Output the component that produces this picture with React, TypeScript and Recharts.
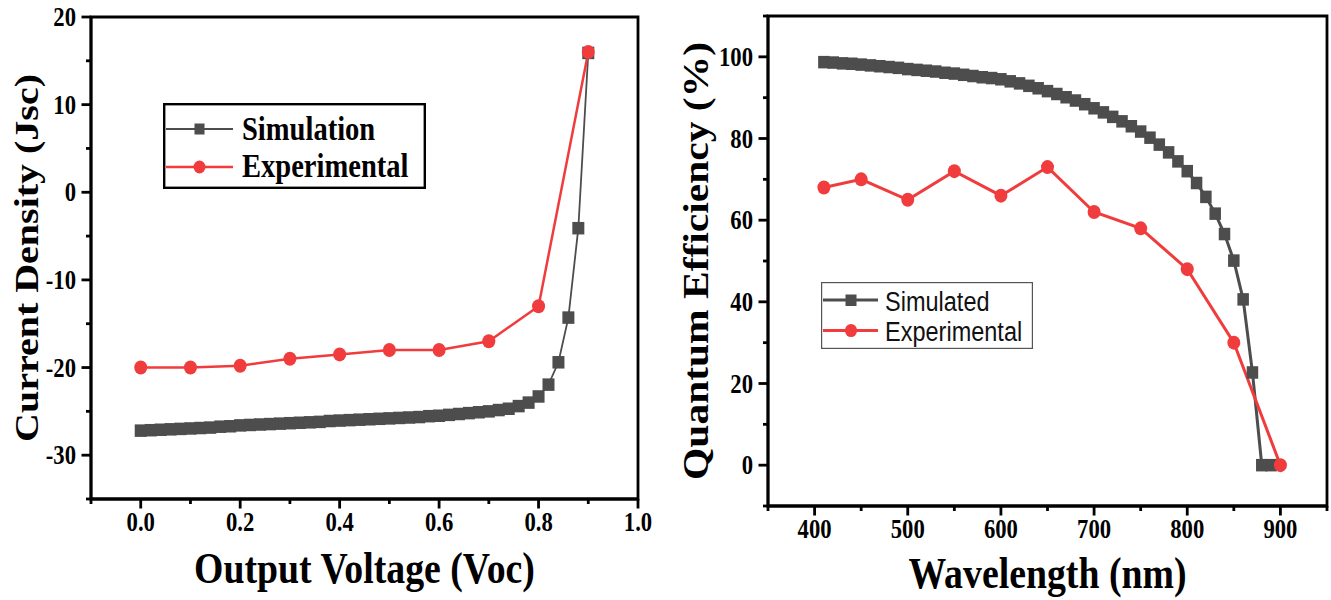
import React from "react";
import { LineChart, Line, XAxis, YAxis, ReferenceArea, Legend } from "recharts";

// Left panel: J-V curve
const leftSimV = [
  0, 0.02, 0.04, 0.06, 0.08, 0.1, 0.12, 0.14, 0.16, 0.18, 0.2, 0.22, 0.24, 0.26, 0.28, 0.3,
  0.32, 0.34, 0.36, 0.38, 0.4, 0.42, 0.44, 0.46, 0.48, 0.5, 0.52, 0.54, 0.56, 0.58, 0.6,
  0.62, 0.64, 0.66, 0.68, 0.7, 0.72, 0.74, 0.76, 0.78, 0.8, 0.82, 0.84, 0.86, 0.88, 0.9,
];
const leftSimJ = [
  -27.2, -27.15, -27.1, -27.05, -27.0, -26.95, -26.9, -26.85, -26.75, -26.7, -26.6, -26.55,
  -26.5, -26.45, -26.4, -26.35, -26.3, -26.25, -26.2, -26.1, -26.05, -26.0, -25.95, -25.9,
  -25.85, -25.8, -25.75, -25.7, -25.65, -25.55, -25.5, -25.4, -25.3, -25.2, -25.1, -25.0,
  -24.85, -24.7, -24.4, -24.0, -23.3, -21.95, -19.4, -14.3, -4.1, 15.9,
];
const leftExpV = [0, 0.1, 0.2, 0.3, 0.4, 0.5, 0.6, 0.7, 0.8, 0.9];
const leftExpJ = [-20, -20, -19.8, -19, -18.5, -18.0, -18.0, -17.0, -13.0, 16];

const leftXTicks = [-0.1, 0, 0.1, 0.2, 0.3, 0.4, 0.5, 0.6, 0.7, 0.8, 0.9, 1.0];
const leftXMajor = [0, 0.2, 0.4, 0.6, 0.8, 1.0];
const leftYTicks = [-35, -30, -25, -20, -15, -10, -5, 0, 5, 10, 15, 20];
const leftYMajor = [-30, -20, -10, 0, 10, 20];

// Right panel: quantum efficiency
const rightSimW = [
  410, 420, 430, 440, 450, 460, 470, 480, 490, 500, 510, 520, 530, 540, 550, 560, 570, 580,
  590, 600, 610, 620, 630, 640, 650, 660, 670, 680, 690, 700, 710, 720, 730, 740, 750, 760,
  770, 780, 790, 800, 810, 820, 830, 840, 850, 860, 870, 880, 890,
];
const rightSimQE = [
  98.7, 98.6, 98.4, 98.3, 98.1, 97.9, 97.7, 97.5, 97.3, 97.0, 96.8, 96.6, 96.4, 96.1, 95.9,
  95.6, 95.3, 95.0, 94.8, 94.5, 94.0, 93.5, 92.9, 92.3, 91.6, 90.9, 90.1, 89.3, 88.4, 87.4,
  86.4, 85.3, 84.2, 83.0, 81.7, 80.2, 78.5, 76.6, 74.4, 72.0, 69.1, 65.7, 61.6, 56.6, 50.1,
  40.6, 22.7, 0, 0,
];
const rightExpW = [410, 450, 500, 550, 600, 650, 700, 750, 800, 850, 900];
const rightExpQE = [68, 70, 65, 72, 66, 73, 62, 58, 48, 30, 0];

const rightXTicks = [350, 400, 450, 500, 550, 600, 650, 700, 750, 800, 850, 900, 950];
const rightXMajor = [400, 500, 600, 700, 800, 900];
const rightYTicks = [-10, 0, 10, 20, 30, 40, 50, 60, 70, 80, 90, 100, 110];
const rightYMajor = [0, 20, 40, 60, 80, 100];

const leftSim = leftSimV.map((v, i) => ({ v, j: leftSimJ[i] }));
const leftExp = leftExpV.map((v, i) => ({ v, j: leftExpJ[i] }));
const rightSim = rightSimW.map((w, i) => ({ w, qe: rightSimQE[i] }));
const rightExp = rightExpW.map((w, i) => ({ w, qe: rightExpQE[i] }));

const SIM = "#4d4d4d";
const EXP = "#f03c3c";
const SERIF = '"Liberation Serif", "Times New Roman", serif';
const SANS = '"Liberation Sans", Arial, sans-serif';
const SQ = 0.84; // the original figure is squeezed horizontally
const AXIS_W = 2.8;
const TICK_FONT = 27;

const isMajor = (majors: number[], v: number) => majors.some((m) => Math.abs(m - v) < 1e-6);

// tick marks drawn by hand so minor ticks can be shorter and unlabelled
const leftTick = (majors: number[]) => (props: any) => {
  const { x, y, payload } = props;
  const major = isMajor(majors, payload.value);
  return (
    <g>
      <line x1={x} x2={x - (major ? 9.5 : 5)} y1={y} y2={y} stroke="#000" strokeWidth={AXIS_W} />
      {major && (
        <text
          transform={`translate(${x - 15},${y}) scale(${SQ},1)`}
          dy="0.34em"
          textAnchor="end"
          style={{ fontFamily: SERIF, fontWeight: 700, fontSize: TICK_FONT }}
          fill="#000"
        >
          {String(payload.value)}
        </text>
      )}
    </g>
  );
};

const bottomTick = (majors: number[], fmt: (v: number) => string) => (props: any) => {
  const { x, y, payload } = props;
  const major = isMajor(majors, payload.value);
  return (
    <g>
      <line x1={x} x2={x} y1={y} y2={y + (major ? 9.5 : 5)} stroke="#000" strokeWidth={AXIS_W} />
      {major && (
        <text
          transform={`translate(${x},${y + 32}) scale(${SQ},1)`}
          textAnchor="middle"
          style={{ fontFamily: SERIF, fontWeight: 700, fontSize: TICK_FONT }}
          fill="#000"
        >
          {fmt(payload.value)}
        </text>
      )}
    </g>
  );
};

const xTitle = (text: string, dy: number) => ({
  content: (props: any) => {
    const vb = props.viewBox || {};
    return (
      <text
        transform={`translate(${vb.x + vb.width / 2},${vb.y + dy}) scale(${SQ},1)`}
        textAnchor="middle"
        style={{ fontFamily: SERIF, fontWeight: 700, fontSize: 45 }}
        fill="#000"
      >
        {text}
      </text>
    );
  },
});

const yTitle = (text: string, bx: number, size: number) => ({
  content: (props: any) => {
    const vb = props.viewBox || {};
    return (
      <text
        transform={`translate(${bx},${vb.y + vb.height / 2}) scale(${SQ},1) rotate(-90)`}
        textAnchor="middle"
        style={{ fontFamily: SERIF, fontWeight: 700, fontSize: size }}
        fill="#000"
      >
        {text}
      </text>
    );
  },
});

const squareDot = (w: number, h: number) => (p: any) =>
  p.cx == null ? (
    <g key={`s${p.index}`} />
  ) : (
    <rect key={`s${p.index}`} x={p.cx - w / 2} y={p.cy - h / 2} width={w} height={h} fill={SIM} />
  );

const roundDot = (rx: number, ry: number) => (p: any) =>
  p.cx == null ? (
    <g key={`c${p.index}`} />
  ) : (
    <ellipse key={`c${p.index}`} cx={p.cx} cy={p.cy} rx={rx} ry={ry} fill={EXP} />
  );

function JvLegend() {
  return (
    <svg width={263} height={86} style={{ display: "block" }}>
      <rect x={1.2} y={1.2} width={260.6} height={83.6} fill="#fff" stroke="#000" strokeWidth={2.4} />
      <line x1={3} x2={70} y1={26} y2={26} stroke={SIM} strokeWidth={1.8} />
      <rect x={31.5} y={20.5} width={10} height={11} fill={SIM} />
      <text transform={`translate(79,36.5) scale(${SQ},1)`} style={{ fontFamily: SERIF, fontWeight: 700, fontSize: 34 }} fill="#000">
        Simulation
      </text>
      <line x1={3} x2={70} y1={64} y2={64} stroke={EXP} strokeWidth={2.4} />
      <ellipse cx={36.5} cy={64} rx={6} ry={6.5} fill={EXP} />
      <text transform={`translate(79,74) scale(${SQ},1)`} style={{ fontFamily: SERIF, fontWeight: 700, fontSize: 34 }} fill="#000">
        Experimental
      </text>
    </svg>
  );
}

function QeLegend() {
  return (
    <svg width={212} height={67} style={{ display: "block" }}>
      <rect x={0.6} y={0.6} width={210.8} height={65.8} fill="#fff" stroke="#555" strokeWidth={1.2} />
      <line x1={2} x2={57} y1={18} y2={18} stroke={SIM} strokeWidth={3} />
      <rect x={24.5} y={12.5} width={11} height={11.5} fill={SIM} />
      <text transform={`translate(64,28.5) scale(${SQ},1)`} style={{ fontFamily: SANS, fontSize: 28 }} fill="#111">
        Simulated
      </text>
      <line x1={2} x2={57} y1={48.5} y2={48.5} stroke={EXP} strokeWidth={3} />
      <ellipse cx={30} cy={48.5} rx={6} ry={6.6} fill={EXP} />
      <text transform={`translate(64,59) scale(${SQ},1)`} style={{ fontFamily: SANS, fontSize: 28 }} fill="#111">
        Experimental
      </text>
    </svg>
  );
}

export default function App() {
  return (
    <div
      style={{
        position: "absolute",
        left: 0,
        top: 0,
        width: 1331,
        height: 600,
        background: "#fff",
        display: "flex",
      }}
    >
      <LineChart width={665} height={600} margin={{ top: 17, right: 27, bottom: 0, left: 0 }}>
        <XAxis
          dataKey="v"
          type="number"
          domain={[-0.1, 1]}
          ticks={leftXTicks}
          interval={0}
          allowDataOverflow
          height={101}
          tickSize={0}
          tickMargin={0}
          tickLine={false}
          axisLine={{ stroke: "#000", strokeWidth: AXIS_W }}
          tick={bottomTick(leftXMajor, (v) => v.toFixed(1))}
          label={xTitle("Output Voltage (Voc)", 84)}
        />
        <YAxis
          type="number"
          domain={[-35, 20]}
          ticks={leftYTicks}
          interval={0}
          allowDataOverflow
          width={91}
          tickSize={0}
          tickMargin={0}
          tickLine={false}
          axisLine={{ stroke: "#000", strokeWidth: AXIS_W }}
          tick={leftTick(leftYMajor)}
          label={yTitle("Current Density (Jsc)", 38, 40)}
        />
        <ReferenceArea x1={-0.1} x2={1} y1={-35} y2={20} fill="none" fillOpacity={0} stroke="#000" strokeWidth={AXIS_W} />
        <Line data={leftSim} dataKey="j" stroke={SIM} strokeWidth={1.8} dot={squareDot(12, 12.5)} isAnimationActive={false} />
        <Line data={leftExp} dataKey="j" stroke={EXP} strokeWidth={2.5} dot={roundDot(6.5, 7)} isAnimationActive={false} />
        <Legend
          layout="horizontal"
          verticalAlign="middle"
          align="center"
          wrapperStyle={{ left: 163, top: 103, width: 263, height: 86 }}
          content={() => <JvLegend />}
        />
      </LineChart>

      <LineChart width={666} height={600} margin={{ top: 16, right: 4, bottom: 0, left: 0 }}>
        <XAxis
          dataKey="w"
          type="number"
          domain={[350, 950]}
          ticks={rightXTicks}
          interval={0}
          allowDataOverflow
          height={94}
          tickSize={0}
          tickMargin={0}
          tickLine={false}
          axisLine={{ stroke: "#000", strokeWidth: AXIS_W }}
          tick={bottomTick(rightXMajor, (v) => String(v))}
          label={xTitle("Wavelength (nm)", 82)}
        />
        <YAxis
          type="number"
          domain={[-10, 110]}
          ticks={rightYTicks}
          interval={0}
          allowDataOverflow
          width={103}
          tickSize={0}
          tickMargin={0}
          tickLine={false}
          axisLine={{ stroke: "#000", strokeWidth: AXIS_W }}
          tick={leftTick(rightYMajor)}
          label={yTitle("Quantum Efficiency (%)", 43, 41.5)}
        />
        <ReferenceArea x1={350} x2={950} y1={-10} y2={110} fill="none" fillOpacity={0} stroke="#000" strokeWidth={AXIS_W} />
        <Line data={rightSim} dataKey="qe" stroke={SIM} strokeWidth={3} dot={squareDot(11.5, 12.5)} isAnimationActive={false} />
        <Line data={rightExp} dataKey="qe" stroke={EXP} strokeWidth={3} dot={roundDot(6.5, 7)} isAnimationActive={false} />
        <Legend
          layout="horizontal"
          verticalAlign="middle"
          align="center"
          wrapperStyle={{ left: 156, top: 282, width: 212, height: 67 }}
          content={() => <QeLegend />}
        />
      </LineChart>
    </div>
  );
}
